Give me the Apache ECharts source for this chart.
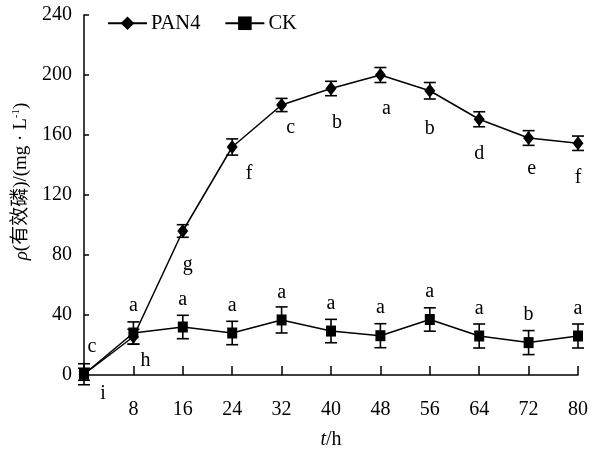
<!DOCTYPE html>
<html>
<head>
<meta charset="utf-8">
<script src="https://cdn.jsdelivr.net/npm/echarts@6/dist/echarts.min.js"></script>
<style>html,body{margin:0;padding:0;background:#fff;}#c{width:601px;height:450px;}</style>
</head>
<body>
<div id="c"></div>
<script>
// ---- data ----
const hours = [0, 8, 16, 24, 32, 40, 48, 56, 64, 72, 80];
const pan4 = [0.5, 25.5, 96, 152, 180, 191, 200, 189.5, 170.5, 158, 154.5];
const pan4Err = [4, 5, 4.2, 5.4, 4.4, 4.8, 5, 5.5, 5, 4.9, 4.8];
const pan4Letters = ['i', 'h', 'g', 'f', 'c', 'b', 'a', 'b', 'd', 'e', 'f'];
const ck = [0.5, 28, 32, 28, 36.7, 29.3, 26.2, 37, 26, 21.6, 26];
const ckErr = [7, 7.4, 7.8, 7.8, 8.7, 7.8, 8, 7.8, 8, 8, 8];
const ckLetters = ['c', 'a', 'a', 'a', 'a', 'a', 'a', 'a', 'a', 'b', 'a'];
const yTicks = [0, 40, 80, 120, 160, 200, 240];
const xTicks = [8, 16, 24, 32, 40, 48, 56, 64, 72, 80];

// ---- style ----
const FONT = "'Liberation Serif', 'Noto Sans CJK SC', serif";
const pan4LabelOffsets = {0: [19, -15], 1: [12, -10], 2: [5, 0], 3: [17, -7], 4: [9, -11], 5: [6, 0], 6: [6, 0], 7: [0, 4], 9: [3, -3]};
const ckLabelOffsets = {0: [8, 0]};

function lineData(vals, letters, offsets) {
  return hours.map((h, i) => {
    const item = {value: [h, vals[i]], letter: letters[i]};
    if (offsets[i]) item.label = {offset: offsets[i]};
    return item;
  });
}
function errData(vals, errs) {
  return hours.map((h, i) => [h, vals[i] - errs[i], vals[i] + errs[i]]);
}
function renderErr(params, api) {
  const x = api.value(0);
  const lo = api.coord([x, api.value(1)]);
  const hi = api.coord([x, api.value(2)]);
  const w = 6;
  const st = {stroke: '#000', lineWidth: 1.6};
  return {type: 'group', children: [
    {type: 'line', shape: {x1: lo[0], y1: lo[1], x2: hi[0], y2: hi[1]}, style: st},
    {type: 'line', shape: {x1: lo[0] - w, y1: lo[1], x2: lo[0] + w, y2: lo[1]}, style: st},
    {type: 'line', shape: {x1: hi[0] - w, y1: hi[1], x2: hi[0] + w, y2: hi[1]}, style: st}
  ]};
}

const chart = echarts.init(document.getElementById('c'), null, {renderer: 'canvas'});
chart.setOption({
  animation: false,
  backgroundColor: '#fff',
  textStyle: {fontFamily: FONT},
  grid: {left: 84, right: 23, top: 15, bottom: 75, containLabel: false, outerBoundsMode: 'none'},
  legend: {
    left: 102, top: 8, itemWidth: 39, itemHeight: 17, itemGap: 24,
    textStyle: {fontFamily: FONT, fontSize: 20.5, color: '#000', padding: [0, 0, 0, -1]},
    data: ['PAN4', 'CK']
  },
  xAxis: {
    type: 'value', min: 0, max: 80, interval: 8,
    name: '{i|t}/h', nameLocation: 'middle', nameGap: 55,
    nameTextStyle: {fontFamily: FONT, fontSize: 20, color: '#000',
      rich: {i: {fontFamily: FONT, fontSize: 20, fontStyle: 'italic', color: '#000'}}},
    axisLine: {lineStyle: {color: '#000', width: 1.5}},
    axisTick: {inside: true, length: 9, lineStyle: {color: '#000', width: 1.5}},
    axisLabel: {margin: 25, fontFamily: FONT, fontSize: 20, color: '#000',
      formatter: v => xTicks.indexOf(v) >= 0 ? String(v) : ''},
    splitLine: {show: false}
  },
  yAxis: {
    type: 'value', min: 0, max: 240, interval: 40,
    name: '{i|ρ}(有效磷)/(mg · L{sup|-1})', nameLocation: 'middle', nameGap: 52,
    nameTextStyle: {fontFamily: FONT, fontSize: 19, color: '#000', padding: [0, 0, 0, 27],
      rich: {
        i: {fontFamily: FONT, fontSize: 19, fontStyle: 'italic', color: '#000'},
        sup: {fontFamily: FONT, fontSize: 11, color: '#000', verticalAlign: 'top', padding: [0, 0, 10, 0]}
      }},
    axisLine: {show: true, lineStyle: {color: '#000', width: 1.5}},
    axisTick: {show: true, inside: true, length: 5, lineStyle: {color: '#000', width: 1.5}},
    axisLabel: {margin: 12, fontFamily: FONT, fontSize: 20, color: '#000',
      formatter: v => yTicks.indexOf(v) >= 0 ? String(v) : ''},
    splitLine: {show: false}
  },
  series: [
    {type: 'custom', name: 'errPAN4', renderItem: renderErr, data: errData(pan4, pan4Err), z: 1, silent: true},
    {type: 'custom', name: 'errCK', renderItem: renderErr, data: errData(ck, ckErr), z: 1, silent: true},
    {
      type: 'line', name: 'PAN4', data: lineData(pan4, pan4Letters, pan4LabelOffsets), z: 3,
      symbol: 'diamond', symbolSize: [11, 14], showAllSymbol: true,
      lineStyle: {color: '#000', width: 1.5}, itemStyle: {color: '#000'},
      label: {show: true, position: 'bottom', distance: 17, fontFamily: FONT, fontSize: 20, color: '#000',
        formatter: p => p.data.letter}
    },
    {
      type: 'line', name: 'CK', data: lineData(ck, ckLetters, ckLabelOffsets), z: 2,
      symbol: 'rect', symbolSize: [10, 11], showAllSymbol: true,
      lineStyle: {color: '#000', width: 1.5}, itemStyle: {color: '#000'},
      label: {show: true, position: 'top', distance: 12, fontFamily: FONT, fontSize: 20, color: '#000',
        formatter: p => p.data.letter}
    }
  ]
});
</script>
</body>
</html>
